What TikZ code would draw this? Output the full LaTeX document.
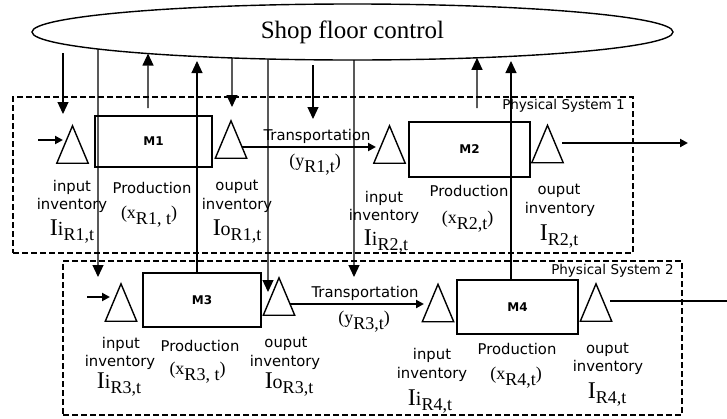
\documentclass[tikz,border=0pt]{standalone}
\usepackage{fontspec}
\setmainfont{Liberation Serif}
\newfontfamily\labfont{DejaVu Sans}
\usetikzlibrary{arrows.meta,shapes.geometric,intersections,calc}

\newcommand{\fsz}[1]{\fontsize{#1}{#1}\selectfont}
\newcommand{\invlab}[2]{{\fsz{24}I}{\fsz{20}#1}\raisebox{-5pt}{\fsz{18}#2}}
\newcommand{\varlab}[2]{{\fsz{18}(#1\raisebox{-6pt}{#2})}}
\newcommand{\tri}[3]{\node[trinode] (#1) at (#2,#3) {};
  \draw[tri] (#1.south west) -- (#1.north) -- (#1.south east) -- cycle;}
\newcommand{\ept}[2]{\path[name path=v#1] (#2,32) -- (#2,95);
  \path[name intersections={of=ell and v#1, by={#1}}];}

\begin{document}
\begin{tikzpicture}[x=1pt,y=-1pt,
  mbox/.style={draw, line width=1.4pt, inner sep=0pt, font=\labfont\bfseries\fsz{12}},
  trinode/.style={inner sep=0pt, minimum width=31pt, minimum height=37pt},
  tri/.style={line width=1.4pt, line join=miter},
  lab/.style={font=\labfont\fsz{14.8}, inner sep=0pt},
  mlab/.style={inner sep=0pt},
  syslab/.style={font=\labfont\fsz{13.5}, inner sep=0pt},
  sys/.style={draw, dash pattern=on 6pt off 3pt, line width=1.1pt},
  ctl/.style={line width=1.2pt},
  ctlarr/.style={line width=1.2pt, -{Triangle[width=11pt,length=12pt]}},
  flow/.style={line width=2pt, -{Triangle[width=8pt,length=8pt]}},
]
\useasboundingbox (0,0) rectangle (727,418);

% physical systems
\node[sys, minimum width=620pt, minimum height=156pt, inner sep=0pt] (ps1) at (323,175) {};
\node[sys, minimum width=619pt, minimum height=154pt, inner sep=0pt] (ps2) at (372.5,338) {};
\node[syslab] (ps1lab) at (563.5,106) {Physical System 1};
\node[syslab] (ps2lab) at (612.5,271) {Physical System 2};

% shop floor control
\node[draw, ellipse, line width=1.4pt, minimum width=641pt, minimum height=56pt, inner sep=0pt,
  font=\fsz{25}] (sfc) at (352.5,32) {Shop floor control};
\path[name path=ell] (352.5,32) ellipse [x radius=320.5, y radius=28];

% machines
\node[mbox, minimum width=117pt, minimum height=51pt] (M1) at (153.5,141.5) {M1};
\node[mbox, minimum width=121pt, minimum height=55pt] (M2) at (469.5,149.5) {M2};
\node[mbox, minimum width=118pt, minimum height=54pt] (M3) at (202,300) {M3};
\node[mbox, minimum width=121pt, minimum height=54pt] (M4) at (517.5,307) {M4};

% inventories (triangles)
\tri{T1}{72.5}{144.5}
\tri{T2}{231}{139.5}
\tri{T3}{389.5}{144.5}
\tri{T4}{547.5}{144}
\tri{T5}{121}{302.5}
\tri{T6}{279}{296.5}
\tri{T7}{438}{303}
\tri{T8}{596}{302.5}

% points on the ellipse
\ept{eB}{98}
\ept{eC}{148}
\ept{eE}{232}
\ept{eF}{268}
\ept{eH}{354}
\ept{eI}{477}

% free ends of control lines
\coordinate (a1) at (63,53);   \coordinate (a2) at (63,114);
\coordinate (b2) at (98,277);
\coordinate (c1) at (148,108);
\coordinate (d2) at (197,61);
\coordinate (e2) at (232,107);
\coordinate (f2) at (268,292);
\coordinate (g1) at (313,65);  \coordinate (g2) at (313,119);
\coordinate (h2) at (354,277);
\coordinate (i1) at (477,108);
\coordinate (j2) at (511,61);

\draw[ctlarr] (a1) -- (a2);
\draw[ctlarr] (eB) -- (b2);
\draw[ctlarr] (c1) -- (eC);
\draw[ctlarr] ($(M3.north)+(-5,0)$) -- (d2);
\draw[ctlarr] (eE) -- (e2);
\draw[ctlarr] (eF) -- (f2);
\draw[ctlarr] (g1) -- (g2);
\draw[ctlarr] (eH) -- (h2);
\draw[ctlarr] (i1) -- (eI);
\draw[ctlarr] ($(M4.north)+(-6.5,0)$) -- (j2);

% material flows
\coordinate (in1) at (38,140);  \coordinate (in1e) at (63,140);
\coordinate (in2) at (87,297);  \coordinate (in2e) at (110,297);
\coordinate (tr1s) at (242,147); \coordinate (tr1e) at (376,147);
\coordinate (tr2s) at (290,304); \coordinate (tr2e) at (424,304);
\coordinate (o1s) at (562,143); \coordinate (o1m) at (638,143); \coordinate (o1e) at (688,143);
\coordinate (o2s) at (610,301); \coordinate (o2e) at (727,301);

\draw[flow] (in1) -- (in1e);
\draw[flow] (in2) -- (in2e);
\draw[flow] (tr1s) -- (tr1e);
\draw[flow] (tr2s) -- (tr2e);
\draw[ctl] (o1s) -- (o1m);
\draw[flow] (o1m) -- (o1e);
\draw[ctl] (o2s) -- (o2e);

% labels, system 1
\node[lab] (l1a) at (72,187) {input};
\node[lab] (l1b) at (72,205) {inventory};
\node[mlab] (l1c) at (72,232) {\invlab{i}{R1,t}};
\node[lab] (l2a) at (152,188) {Production};
\node[mlab] (l2b) at (149,217) {\varlab{x}{R1, t}};
\node[lab] (l3a) at (237,187) {ouput};
\node[lab] (l3b) at (237,205) {inventory};
\node[mlab] (l3c) at (237,232) {\invlab{o}{R1,t}};
\node[lab] (l4a) at (317,136) {Transportation};
\node[mlab] (l4b) at (315,165) {\varlab{y}{R1,t}};
\node[lab] (l5a) at (384,198) {input};
\node[lab] (l5b) at (384,216) {inventory};
\node[mlab] (l5c) at (386,242) {\invlab{i}{R2,t}};
\node[lab] (l6a) at (469,191) {Production};
\node[mlab] (l6b) at (467.5,222) {\varlab{x}{R2,t}};
\node[lab] (l7a) at (559,191) {ouput};
\node[lab] (l7b) at (560,209) {inventory};
\node[mlab] (l7c) at (559,237) {\invlab{}{R2,t}};

% labels, system 2
\node[lab] (m1a) at (121,344) {input};
\node[lab] (m1b) at (120,362) {inventory};
\node[mlab] (m1c) at (119,385) {\invlab{i}{R3,t}};
\node[lab] (m2a) at (200,346) {Production};
\node[mlab] (m2b) at (197.5,373) {\varlab{x}{R3, t}};
\node[lab] (m3a) at (286,344) {ouput};
\node[lab] (m3b) at (285,362) {inventory};
\node[mlab] (m3c) at (289,385) {\invlab{o}{R3,t}};
\node[lab] (m4a) at (365,293) {Transportation};
\node[mlab] (m4b) at (364,322) {\varlab{y}{R3,t}};
\node[lab] (m5a) at (432,355) {input};
\node[lab] (m5b) at (432,374) {inventory};
\node[mlab] (m5c) at (430,402) {\invlab{i}{R4,t}};
\node[lab] (m6a) at (517,349) {Production};
\node[mlab] (m6b) at (516,378) {\varlab{x}{R4,t}};
\node[lab] (m7a) at (607.5,350) {ouput};
\node[lab] (m7b) at (608,367) {inventory};
\node[mlab] (m7c) at (607,395) {\invlab{}{R4,t}};
\end{tikzpicture}
\end{document}
